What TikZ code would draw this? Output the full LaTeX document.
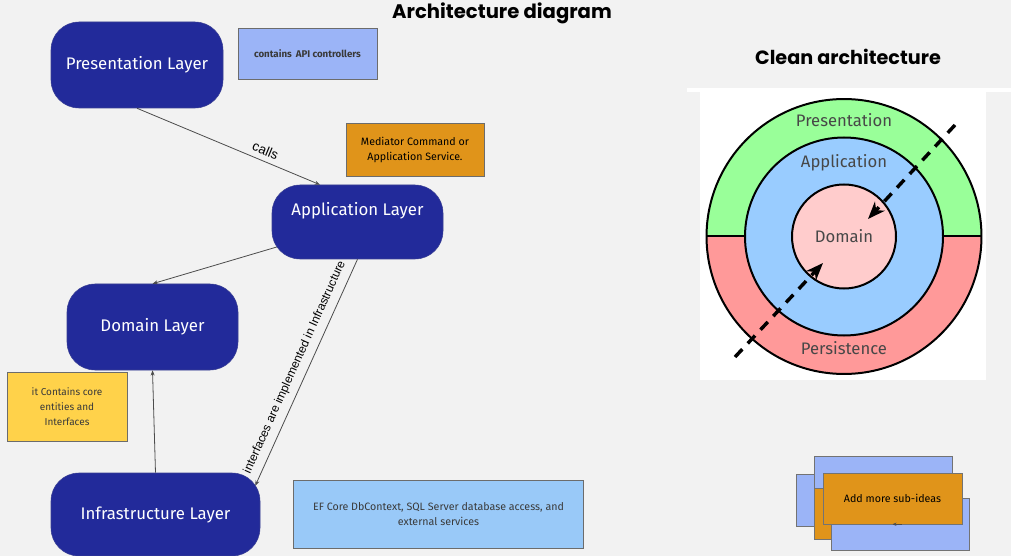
\documentclass[tikz,border=0pt]{standalone}
\usepackage{fontspec}
\setmainfont{Fira Sans}
\newfontfamily\titlefont{Poppins}
\newfontfamily\arialfont{Liberation Sans}
\usetikzlibrary{arrows.meta}
\definecolor{bg}{HTML}{F2F2F2}
\definecolor{layerblue}{HTML}{222A9A}
\definecolor{apiblue}{HTML}{9BB4F7}
\definecolor{medorange}{HTML}{E0941A}
\definecolor{coreyellow}{HTML}{FFD24A}
\definecolor{efblue}{HTML}{99C9F8}
\definecolor{notetext}{HTML}{3A3A3A}
\definecolor{ringgreen}{HTML}{99FF99}
\definecolor{ringred}{HTML}{FF9999}
\definecolor{ringblue}{HTML}{99CCFF}
\definecolor{ringpink}{HTML}{FFCCCC}
\tikzset{
  layer/.style={rectangle, rounded corners=21pt, fill=layerblue, draw=layerblue!75!gray,
                text=white, font=\fontsize{12.6}{15}\selectfont},
  note/.style={rectangle, draw=gray!85!black, thin, text=notetext, align=center,
               font=\fontsize{8}{11.25}\selectfont},
  link/.style={draw=black!70, line width=0.6pt, -{Stealth[length=4pt,width=3pt]}},
  tag/.style={midway, sloped, above, font=\arialfont, inner sep=2pt},
  title/.style={font=\titlefont\bfseries\fontsize{14.7}{17}\selectfont, text=black},
  ring/.style={draw=black, line width=1.5pt},
  ringtext/.style={text=black!72, font=\fontsize{12.5}{14}\selectfont},
  crossing/.style={line width=2.6pt, dash pattern=on 8pt off 6pt,
                   -{Stealth[length=13pt,width=10pt,inset=4pt]}},
  idea/.style={draw=gray!90!black, thin}
}
\begin{document}
\begin{tikzpicture}[x=0.75pt, y=-0.75pt, >=Latex]

        % --- Canvas
        \useasboundingbox[fill=bg] (0,0) rectangle (1011,556);
        \fill[white] (687,88) rectangle (1011,92);
        \fill[white] (700,88) rectangle (986,380);

        % --- Titles
        \node[title] (archtitle) at (502,13) {Architecture diagram};
        \node[title, font=\titlefont\bfseries\fontsize{14.4}{17}\selectfont] (cleantitle) at (848,57) {Clean architecture};

        % --- Layers
        \node[layer, minimum width=129pt, minimum height=64.5pt] (pres) at (137,65) {Presentation Layer};
        \node[layer, minimum width=128.25pt, minimum height=55.5pt] (app) at (357.5,222) {\raisebox{19.5pt}{Application Layer}};
        \node[layer, minimum width=128.25pt, minimum height=64.5pt] (dom) at (152.5,327) {Domain Layer};
        \node[layer, minimum width=156.75pt, minimum height=62.25pt] (infra) at (155.5,514.5) {Infrastructure Layer};

        % --- Notes
        \node[note, fill=apiblue, minimum width=104.25pt, minimum height=38.25pt,
              font=\bfseries\fontsize{7.3}{9}\selectfont] (api) at (307.5,53.5) {contains\, API controllers};
        \node[note, fill=medorange, text=black, minimum width=103.5pt, minimum height=39.75pt] (mediator) at (415,149.5)
              {Mediator Command or\\Application Service.};
        \node[note, fill=coreyellow, minimum width=90pt, minimum height=51.75pt,
              font=\fontsize{7.5}{11.25}\selectfont] (core) at (67,406.5) {it Contains core\\entities and\\Interfaces};
        \node[note, fill=efblue, minimum width=217.5pt, minimum height=51pt] (ef) at (438.5,514)
              {EF Core DbContext, SQL Server database access, and\\external services};

        % --- Connectors
        \draw[link] (pres.south) -- node[tag, pos=0.68, font=\arialfont\fontsize{10}{12}\selectfont, yshift=2pt] {calls} ([xshift=-28.1pt]app.north);
        \draw[link] ([xshift=3.75pt,yshift=-18.75pt]app.west) -- (dom.north);
        \draw[link] (infra.north) -- (dom.south);
        \draw[link] (app.south) -- node[tag, font=\arialfont\fontsize{9}{11}\selectfont, yshift=3pt]
              {interfaces are implemented in Infrastructure} ([xshift=-3.75pt,yshift=-9.75pt]infra.north east);

        % --- Clean architecture rings
        \coordinate (ringc) at (844,236.5);
        \fill[ringred] (ringc) circle (103.1pt);
        \begin{scope}
          \clip (690,80) rectangle (1000,236.5);
          \fill[ringgreen] (ringc) circle (103.1pt);
        \end{scope}
        \draw[ring] ([xshift=-103.1pt]ringc) -- ([xshift=103.1pt]ringc);
        \draw[ring] (ringc) circle (103.1pt);
        \filldraw[ring, fill=ringblue] (ringc) circle (74.25pt);
        \filldraw[ring, fill=ringpink] (ringc) circle (39pt);

        \node[ringtext] (presring) at (844,120) {Presentation};
        \node[ringtext] (appring) at (844,163) {Application};
        \node[ringtext] (domring) at (844,236) {Domain};
        \node[ringtext] (persring) at (844,348) {Persistence};

        % --- Dependency direction
        \coordinate (toptail) at (955,125);
        \coordinate (toptip) at (868,219);
        \coordinate (bottail) at (735,357);
        \coordinate (bottip) at (823,263);
        \draw[crossing] (toptail) -- (toptip);
        \draw[crossing] (bottail) -- (bottip);

        % --- Sub-ideas stack
        \filldraw[idea, fill=apiblue] (796,474) rectangle (934,526);
        \filldraw[idea, fill=apiblue] (814,456) rectangle (952,508);
        \filldraw[idea, fill=medorange] (814,488) rectangle (952,539);
        \filldraw[idea, fill=apiblue] (831,498) rectangle (969,550);
        \node[idea, fill=medorange, minimum width=104.25pt, minimum height=38.25pt,
              font=\fontsize{8}{10}\selectfont] (subideas) at (892.5,498.5) {Add more sub-ideas};
        \draw[black!70, line width=0.5pt, -{Stealth[length=3pt,width=2.5pt]}] ([xshift=7pt]subideas.south) -- (subideas.south);

\end{tikzpicture}
\end{document}
